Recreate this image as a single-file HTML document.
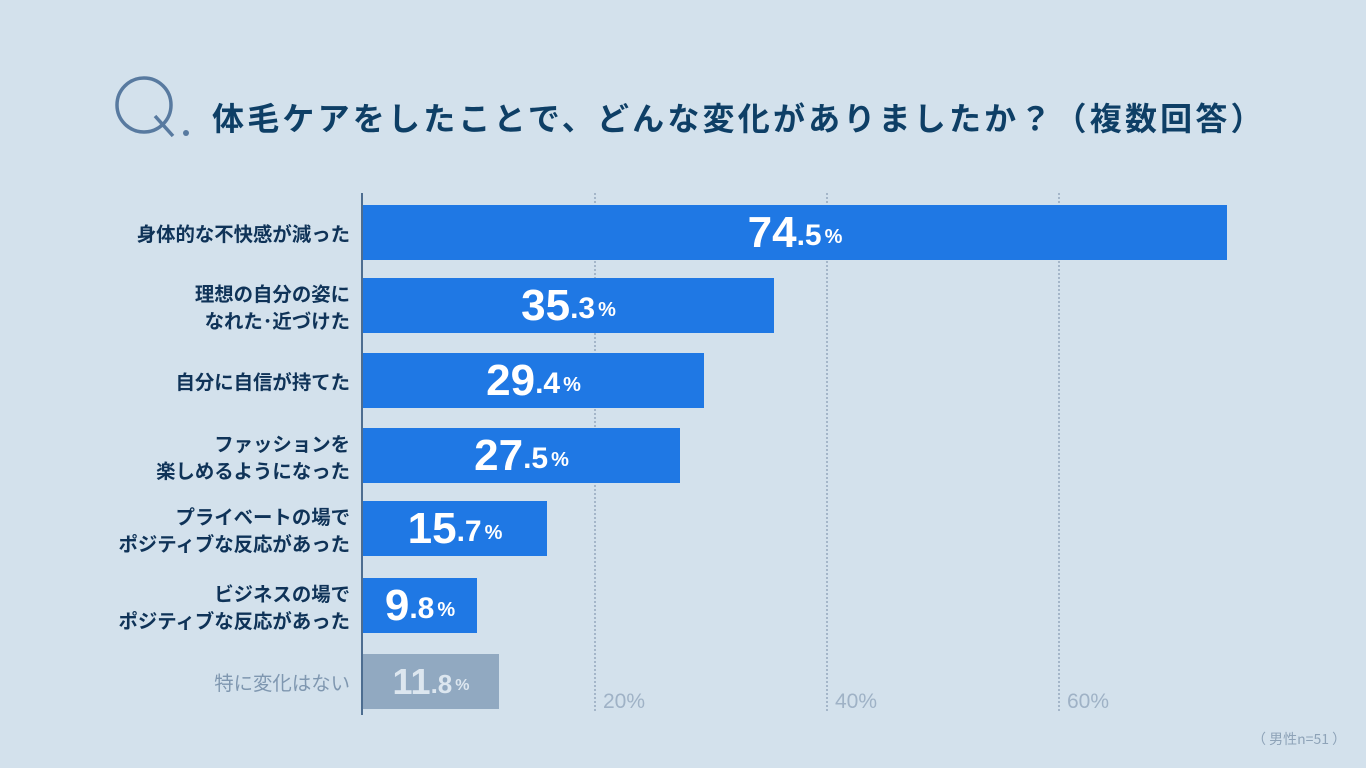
<!DOCTYPE html>
<html><head><meta charset="utf-8"><style>
body{margin:0;width:1366px;height:768px;background:#d3e1ec;position:relative;overflow:hidden;font-family:"Liberation Sans","Noto Sans CJK JP",sans-serif}
.a{position:absolute}
.bar{position:absolute;left:363px;height:55px;background:#1f78e4;display:flex;align-items:center;justify-content:center;color:#fff;font-weight:bold}
.n{font-size:44px}.d{font-size:30px;margin-top:6px}.p{font-size:20px;margin-left:3px;margin-top:10px}
.lab{position:absolute;right:1016px;text-align:right;color:#0f3358;font-weight:bold;font-size:19.4px;line-height:27px;font-family:"Noto Sans CJK JP",sans-serif;display:flex;align-items:center;justify-content:flex-end;height:55px;white-space:nowrap}
.g{position:absolute;top:193px;height:518px;border-left:2px dotted #a4b6c9}
.t{position:absolute;top:690px;color:#9fb2c6;font-size:21px}
</style></head><body>
<svg class="a" style="left:110px;top:74px" width="80" height="66"><circle cx="34" cy="31" r="27" fill="none" stroke="#587aa0" stroke-width="3.5"/><line x1="45" y1="42" x2="63" y2="62" stroke="#587aa0" stroke-width="3.5"/><circle cx="76" cy="59" r="3" fill="#587aa0"/></svg>
<div class="a" style="left:212px;top:94px;font-size:32px;font-weight:bold;color:#0e3f66;font-family:'Noto Sans CJK JP',sans-serif;white-space:nowrap;letter-spacing:3.2px">体毛ケアをしたことで、どんな変化がありましたか？（複数回答）</div>
<div class="g" style="left:594px"></div><div class="g" style="left:826px"></div><div class="g" style="left:1058px"></div>
<div class="t" style="left:603px">20%</div><div class="t" style="left:835px">40%</div><div class="t" style="left:1067px">60%</div>
<div class="a" style="left:361px;top:193px;width:2px;height:522px;background:#4d6d90"></div>
<div class="bar" style="top:205px;width:864px"><span class="n">74</span><span class="d">.5</span><span class="p">%</span></div>
<div class="bar" style="top:278px;width:411px"><span class="n">35</span><span class="d">.3</span><span class="p">%</span></div>
<div class="bar" style="top:353px;width:341px"><span class="n">29</span><span class="d">.4</span><span class="p">%</span></div>
<div class="bar" style="top:428px;width:317px"><span class="n">27</span><span class="d">.5</span><span class="p">%</span></div>
<div class="bar" style="top:501px;width:184px"><span class="n">15</span><span class="d">.7</span><span class="p">%</span></div>
<div class="bar" style="top:578px;width:114px"><span class="n">9</span><span class="d">.8</span><span class="p">%</span></div>
<div class="bar" style="top:654px;width:136px;background:#91a9c1;color:#dce6ef"><span class="n" style="font-size:36px">11</span><span class="d" style="font-size:26px;margin-top:5px">.8</span><span class="p" style="font-size:16px;margin-top:8px">%</span></div>
<div class="lab" style="top:205px">身体的な不快感が減った</div>
<div class="lab" style="top:278px">理想の自分の姿に<br>なれた･近づけた</div>
<div class="lab" style="top:353px">自分に自信が持てた</div>
<div class="lab" style="top:428px">ファッションを<br>楽しめるようになった</div>
<div class="lab" style="top:501px">プライベートの場で<br>ポジティブな反応があった</div>
<div class="lab" style="top:578px">ビジネスの場で<br>ポジティブな反応があった</div>
<div class="lab" style="top:654px;color:#7f97b0;font-weight:normal">特に変化はない</div>
<div class="a" style="left:1252px;top:729px;font-size:14px;color:#8ea3b8;font-family:'Noto Sans CJK JP',sans-serif">（ 男性n=51 ）</div>
</body></html>
